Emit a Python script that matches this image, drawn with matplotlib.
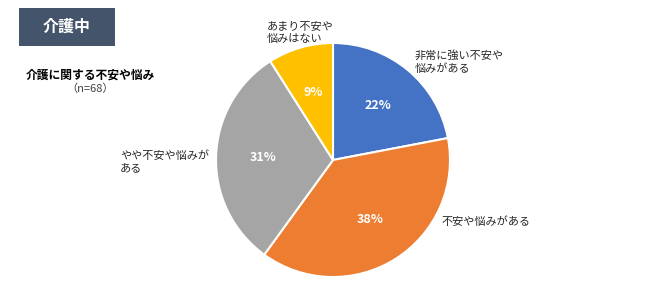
import matplotlib.pyplot as plt
from matplotlib.patches import Rectangle

plt.rcParams['font.family'] = ['Noto Sans CJK JP', 'DejaVu Sans']

labels = ['非常に強い不安や\n悩みがある', '不安や悩みがある', 'やや不安や悩みが\nある', 'あまり不安や\n悩みはない']
values = [22, 38, 31, 9]
colors = ['#4472C4', '#ED7D31', '#A5A5A5', '#FFC000']

W, H = 650, 306
fig = plt.figure(figsize=(6.5, 3.06), dpi=100)

# pie axes: center (333,160) px, radius 117 px
cx, cy, r = 333, 160, 117
ax = fig.add_axes([(cx - r) / W, (H - cy - r) / H, 2 * r / W, 2 * r / H])
wedges, _, autotexts = ax.pie(values, colors=colors, startangle=90, counterclock=False,
                              autopct='%d%%', pctdistance=0.6, radius=1,
                              wedgeprops=dict(edgecolor='white', linewidth=1.5),
                              textprops=dict(color='white', fontsize=9, fontweight='bold'))
ax.set_xlim(-1, 1)
ax.set_ylim(-1, 1)
ax.set_aspect('auto')
ax.axis('off')

# category labels placed outside the pie
label_pos = [(415, 62), (442, 222), (120, 162), (267, 33)]
for (px, py), lab in zip(label_pos, labels):
    fig.text(px / W, 1 - py / H, lab, fontsize=8, color='#262626',
             ha='left', va='center', linespacing=1.3)

# header box
fig.patches.append(Rectangle((19 / W, 1 - 46 / H), 96 / W, 38 / H, transform=fig.transFigure,
                             facecolor='#44546A', edgecolor='none'))
fig.text(67 / W, 1 - 27 / H, '介護中', color='white', fontsize=11.5, fontweight='bold',
         ha='center', va='center')

fig.text(90 / W, 1 - 75 / H, '介護に関する不安や悩み', fontsize=8.5, fontweight='bold',
         ha='center', va='center', color='black')
fig.text(90 / W, 1 - 89 / H, '（n=68）', fontsize=8, ha='center', va='center', color='#404040')

fig.savefig('out.png', dpi=100)
